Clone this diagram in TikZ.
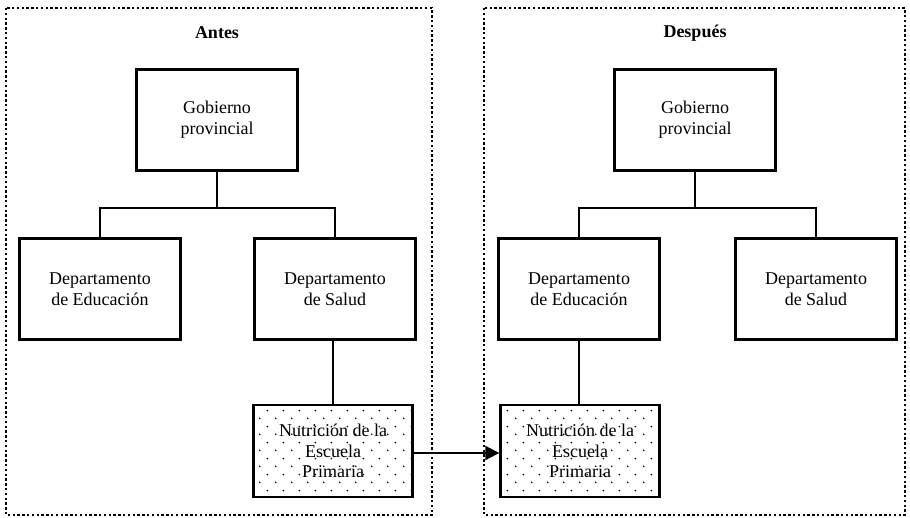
\documentclass[tikz,border=0pt]{standalone}
\usepackage{fontspec}
\setmainfont{Liberation Serif}
\usetikzlibrary{patterns.meta,arrows.meta}
\pgfdeclarepattern{
  name=sparsedots,
  type=uncolored,
  bottom left={\pgfpoint{0pt}{0pt}},
  top right={\pgfpoint{16pt}{16pt}},
  tile size={\pgfpoint{16pt}{16pt}},
  code={\pgfpathcircle{\pgfpoint{4pt}{4pt}}{0.95pt}\pgfpathcircle{\pgfpoint{12pt}{12pt}}{0.95pt}\pgfusepath{fill}}
}
\begin{document}
\begin{tikzpicture}[x=1pt,y=-1pt,
  box/.style={draw,line width=2.4pt,minimum width=161pt,minimum height=101pt,align=center,font=\fontsize{18}{21}\selectfont,inner sep=0pt},
  nutbox/.style={draw,line width=2.4pt,minimum width=159pt,minimum height=92pt,align=center,font=\fontsize{18}{20.5}\selectfont,inner sep=0pt,pattern=sparsedots},
  frame/.style={line width=2.4pt,dash pattern=on 2.4pt off 2.4pt},
  conn/.style={line width=2.4pt},
  title/.style={font=\fontsize{18}{21}\selectfont\bfseries}]
\useasboundingbox (0,0) rectangle (910,517);
\draw[frame] (6,8) rectangle (432,515);
\draw[frame] (484,8) rectangle (905,515);
\node[title] (t1) at (217,33) {Antes};
\node[title] (t2) at (695,33) {Después};
% left
\node[box] (g1) at (217,120) {Gobierno\\provincial};
\node[box] (e1) at (100,289) {Departamento\\de Educación};
\node[box] (s1) at (335,289) {Departamento\\de Salud};
\node[nutbox] (n1) at (333,451) {Nutrición de la\\Escuela\\Primaria};
\coordinate (j1) at (217,208);
\draw[conn] (g1.south) -- (j1);
\draw[conn] (e1.north) -- (e1.north |- j1) -- (s1.north |- j1) -- (s1.north);
\draw[conn] (s1.south -| n1.north) -- (n1.north);
% right
\node[box] (g2) at (695,120) {Gobierno\\provincial};
\node[box] (e2) at (579,289) {Departamento\\de Educación};
\node[box] (s2) at (816,289) {Departamento\\de Salud};
\node[nutbox] (n2) at (580,451) {Nutrición de la\\Escuela\\Primaria};
\coordinate (j2) at (695,208);
\draw[conn] (g2.south) -- (j2);
\draw[conn] (e2.north) -- (e2.north |- j2) -- (s2.north |- j2) -- (s2.north);
\draw[conn] (n2.north -| e2.south) -- (e2.south);
\draw[line width=2pt,-{Triangle[length=14pt,width=14pt]}] (n1.east |- 0,453) -- (n2.west |- 0,453);
\end{tikzpicture}
\end{document}
